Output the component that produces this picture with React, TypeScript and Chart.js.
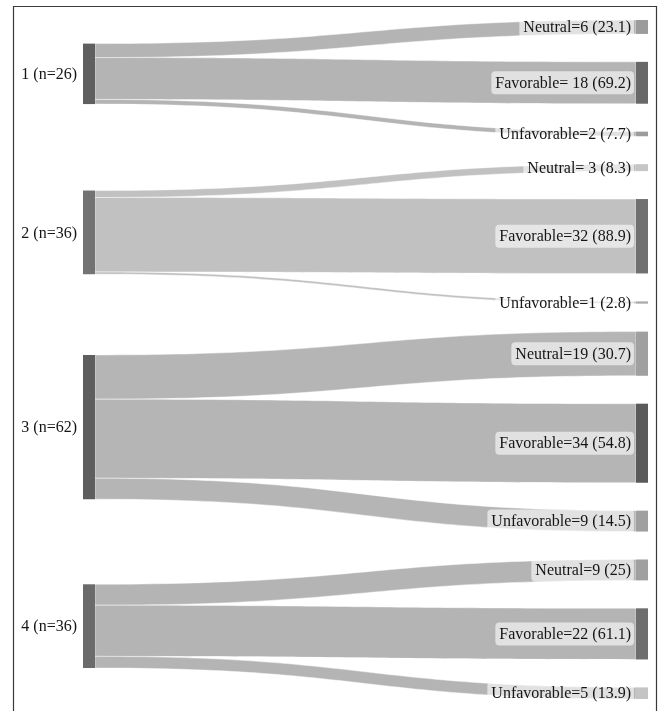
import React, { useEffect, useRef } from "react";
import { Chart, registerables } from "chart.js";

Chart.register(...registerables);

// ---------- data ----------
const groupLabels = ["1 (n=26)", "2 (n=36)", "3 (n=62)", "4 (n=36)"];
const outcomes = ["Neutral", "Favorable", "Unfavorable"];
const neutralCounts = [6, 3, 19, 9];
const favorableCounts = [18, 32, 34, 22];
const unfavorableCounts = [2, 1, 9, 5];
const targetLabels = [
  "Neutral=6 (23.1)", "Favorable= 18 (69.2)", "Unfavorable=2 (7.7)",
  "Neutral= 3 (8.3)", "Favorable=32 (88.9)", "Unfavorable=1 (2.8)",
  "Neutral=19 (30.7)", "Favorable=34 (54.8)", "Unfavorable=9 (14.5)",
  "Neutral=9 (25)", "Favorable=22 (61.1)", "Unfavorable=5 (13.9)",
];

// ---------- styles ----------
const sourceColors = ["#5f5f5f", "#737373", "#5e5e5e", "#6b6b6b"];
const targetColors = [
  "#9c9c9c", "#686868", "#9c9c9c",
  "#c6c6c6", "#707070", "#ababab",
  "#a0a0a0", "#5a5a5a", "#a0a0a0",
  "#a0a0a0", "#6e6e6e", "#c4c4c4",
];
const linkColors = ["#b4b4b4", "#c1c1c1", "#b5b5b5", "#b4b4b4"];
const GAP_UNITS = 12;
const SRC_FONT = "16px 'Liberation Serif', 'Times New Roman', serif";
const TGT_FONT = "16px 'Liberation Serif', 'Times New Roman', serif";

// ---------- layout (in value units) ----------
function buildLayout() {
  const counts = groupLabels.map((_, g) => [neutralCounts[g], favorableCounts[g], unfavorableCounts[g]]);
  const targets: { y0: number; y1: number; g: number; k: number }[] = [];
  let cursor = 0;
  counts.forEach((row, g) => {
    row.forEach((v, k) => {
      targets.push({ y0: cursor, y1: cursor + v, g, k });
      cursor += v + GAP_UNITS;
    });
  });
  const total = cursor - GAP_UNITS;
  const sources = counts.map((row, g) => {
    const n = row.reduce((a, b) => a + b, 0);
    let wsum = 0;
    row.forEach((v, k) => {
      const t = targets[g * 3 + k];
      wsum += v * (t.y0 + t.y1) / 2;
    });
    const c = wsum / n;
    return { y0: c - n / 2, y1: c + n / 2, n };
  });
  return { counts, targets, sources, total };
}

const layout = buildLayout();

export default function App() {
  const ref = useRef<HTMLCanvasElement | null>(null);

  useEffect(() => {
    if (!ref.current) return;
    const { counts, targets, sources, total } = layout;

    const nodeData = [
      ...sources.map((s) => ({ x: 0, y: [s.y0, s.y1] })),
      ...targets.map((t) => ({ x: 1, y: [t.y0, t.y1] })),
    ];
    const nodeColors = [...sourceColors, ...targetColors];

    const framePlugin = {
      id: "frame",
      beforeDraw(chart: any) {
        const ctx = chart.ctx;
        ctx.save();
        ctx.strokeStyle = "#3a3a3a";
        ctx.lineWidth = 1.2;
        ctx.beginPath();
        ctx.moveTo(13.5, chart.height);
        ctx.lineTo(13.5, 6.5);
        ctx.lineTo(656.5, 6.5);
        ctx.lineTo(656.5, chart.height);
        ctx.stroke();
        ctx.restore();
      },
    };

    const linksPlugin = {
      id: "links",
      beforeDatasetsDraw(chart: any) {
        const ctx = chart.ctx;
        const meta = chart.getDatasetMeta(0);
        const ys = chart.scales.y;
        ctx.save();
        counts.forEach((row, g) => {
          const src = meta.data[g];
          const x0 = src.x + src.width / 2;
          let off = sources[g].y0;
          row.forEach((v, k) => {
            const ti = g * 3 + k;
            const tgt = meta.data[4 + ti];
            const x1 = tgt.x - tgt.width / 2;
            const xm = x0 + (x1 - x0) * 0.5;
            const s0 = ys.getPixelForValue(off);
            const s1 = ys.getPixelForValue(off + v);
            const t0 = ys.getPixelForValue(targets[ti].y0);
            const t1 = ys.getPixelForValue(targets[ti].y1);
            off += v;
            ctx.beginPath();
            ctx.moveTo(x0, s0);
            ctx.bezierCurveTo(xm, s0, xm, t0, x1, t0);
            ctx.lineTo(x1, t1);
            ctx.bezierCurveTo(xm, t1, xm, s1, x0, s1);
            ctx.closePath();
            ctx.fillStyle = linkColors[g];
            ctx.fill();
            ctx.strokeStyle = "rgba(255,255,255,0.55)";
            ctx.lineWidth = 0.8;
            ctx.stroke();
          });
        });
        ctx.restore();
      },
    };

    const labelsPlugin = {
      id: "nodeLabels",
      afterDatasetsDraw(chart: any) {
        const ctx = chart.ctx;
        const meta = chart.getDatasetMeta(0);
        ctx.save();
        ctx.textBaseline = "middle";
        ctx.textAlign = "right";
        // source labels
        ctx.font = SRC_FONT;
        groupLabels.forEach((lab, g) => {
          const el = meta.data[g];
          const cy = (el.y + el.base) / 2;
          ctx.fillStyle = "#151515";
          ctx.fillText(lab, el.x - el.width / 2 - 6, cy + 1);
        });
        // target labels
        ctx.font = TGT_FONT;
        targetLabels.forEach((lab, i) => {
          const el = meta.data[4 + i];
          const cy = (el.y + el.base) / 2;
          const xr = el.x - el.width / 2 - 5;
          const w = ctx.measureText(lab).width;
          const bx = xr - w - 4;
          const bw = w + 7;
          const bh = 23;
          const by = cy - bh / 2;
          ctx.fillStyle = "rgba(255,255,255,0.6)";
          ctx.beginPath();
          (ctx as any).roundRect(bx, by, bw, bh, 4);
          ctx.fill();
          ctx.fillStyle = "#151515";
          ctx.fillText(lab, xr, cy + 1);
        });
        ctx.restore();
      },
    };

    const chart = new Chart(ref.current, {
      type: "bar",
      data: {
        datasets: [
          {
            label: outcomes.join("/"),
            data: nodeData as any,
            backgroundColor: nodeColors,
            borderWidth: 0,
            barThickness: 12,
            clip: false as any,
            inflateAmount: 0,
          } as any,
        ],
      },
      options: {
        animation: false,
        responsive: false,
        devicePixelRatio: 1,
        events: [],
        layout: { padding: { left: 89, right: 17, top: 20, bottom: 12 } },
        plugins: { legend: { display: false }, tooltip: { enabled: false } },
        scales: {
          x: { type: "linear", min: 0, max: 1, display: false, offset: false },
          y: { type: "linear", min: 0, max: total, reverse: true, display: false },
        },
      },
      plugins: [framePlugin, linksPlugin, labelsPlugin],
    });
    return () => chart.destroy();
  }, []);

  return (
    <div style={{ position: "absolute", left: 0, top: 0, width: 659, height: 711, background: "#fff" }}>
      <canvas ref={ref} width={659} height={711} style={{ display: "block" }} />
    </div>
  );
}
